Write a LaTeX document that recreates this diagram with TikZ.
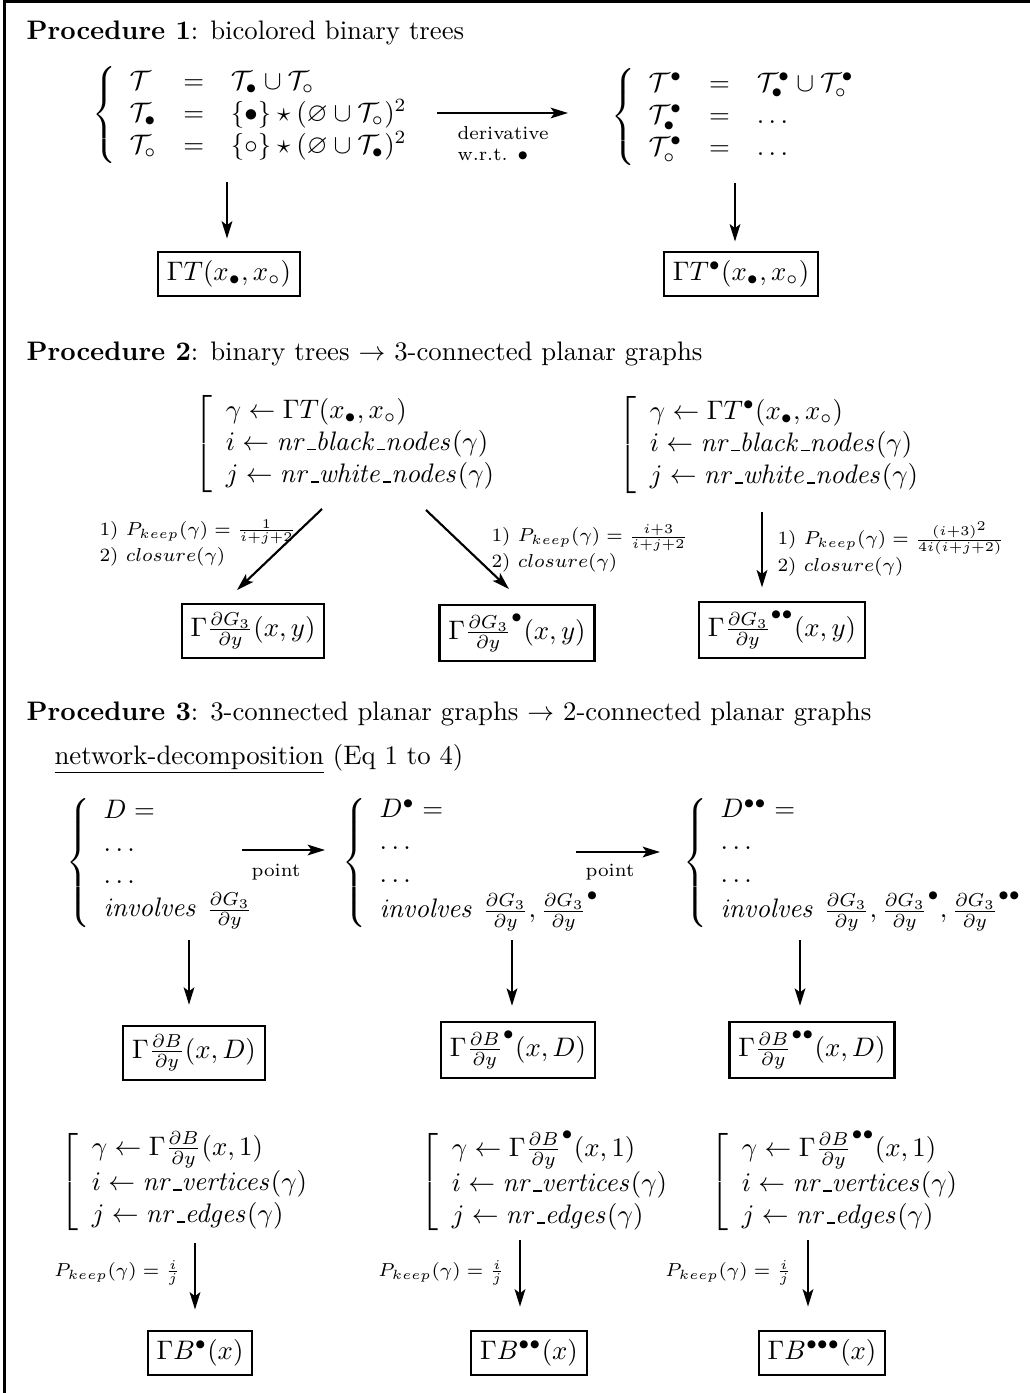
\documentclass[tikz,border=0pt]{standalone}
\usepackage{amsmath,amssymb}
\usetikzlibrary{arrows.meta}
\tikzset{
  box/.style={draw, line width=0.8pt, inner sep=3.33pt},
  arr/.style={-{Stealth[length=6.5pt,width=4pt,inset=1.5pt]}, line width=0.8pt},
  lbl/.style={font=\scriptsize, align=left, inner sep=0pt},
  sys/.style={inner sep=0pt, anchor=west},
  ttl/.style={anchor=base west, inner sep=0pt},
}
\newcommand{\dGy}{\frac{\partial G_3}{\partial y}}
\newcommand{\dBy}{\frac{\partial B}{\partial y}}
\newcommand{\us}{\kern.06em\vbox{\hrule height0.5pt width.3em}}
\begin{document}
\begin{tikzpicture}[x=0.3735pt,y=-0.3735pt]
\useasboundingbox (0,0) rectangle (1030,1393);
\draw[line width=1pt] (4.5,1393) -- (4.5,1.3) -- (1030,1.3);

% ---------------- Procedure 1
\node[ttl] (t1) at (26,39) {\textbf{Procedure 1}: bicolored binary trees};
\node[sys] (sA) at (92,115) {$\left\{\begin{array}{lcl}
 \mathcal{T} &=& \mathcal{T}_\bullet\cup\mathcal{T}_\circ\\
 \mathcal{T}_\bullet &=& \{\bullet\}\star(\varnothing\cup\mathcal{T}_\circ)^2\\
 \mathcal{T}_\circ &=& \{\circ\}\star(\varnothing\cup\mathcal{T}_\bullet)^2
 \end{array}\right.$};
\node[sys] (sB) at (611,117) {$\left\{\begin{array}{lcl}
 \mathcal{T}^\bullet &=& \mathcal{T}^\bullet_\bullet\cup\mathcal{T}^\bullet_\circ\\
 \mathcal{T}^\bullet_\bullet &=& \ldots\\
 \mathcal{T}^\bullet_\circ &=& \ldots
 \end{array}\right.$};
\node[box] (bA) at (229,274) {$\Gamma T(x_\bullet,x_\circ)$};
\node[box] (bB) at (741,274) {$\Gamma T^\bullet(x_\bullet,x_\circ)$};
\coordinate (h1s) at (437,113);
\coordinate (h1e) at (568,113);
\draw[arr] (h1s) -- (h1e);
\node[lbl, anchor=north west] (l1) at (457,126) {derivative\\w.r.t. $\bullet$};
\coordinate (vAs) at (227,182);
\coordinate (vBs) at (735,183);
\draw[arr, shorten >=4.5pt] (vAs) -- (vAs |- bA.north);
\draw[arr, shorten >=3.4pt] (vBs) -- (vBs |- bB.north);

% ---------------- Procedure 2
\node[ttl] (t2) at (26,360) {\textbf{Procedure 2}: binary trees $\rightarrow$ 3-connected planar graphs};
\node[sys] (sC) at (194,444) {$\left[\begin{array}{l}
 \gamma\leftarrow\Gamma T(x_\bullet,x_\circ)\\
 i\leftarrow \mathit{nr\us black\us nodes}(\gamma)\\
 j\leftarrow \mathit{nr\us white\us nodes}(\gamma)
 \end{array}\right.$};
\node[sys] (sD) at (618,445) {$\left[\begin{array}{l}
 \gamma\leftarrow\Gamma T^\bullet(x_\bullet,x_\circ)\\
 i\leftarrow \mathit{nr\us black\us nodes}(\gamma)\\
 j\leftarrow \mathit{nr\us white\us nodes}(\gamma)
 \end{array}\right.$};
\node[box] (b1) at (253,631) {$\Gamma\dGy(x,y)$};
\node[box] (b2) at (517,633) {$\Gamma{\dGy}^{\bullet}(x,y)$};
\node[box] (b3) at (782,630) {$\Gamma{\dGy}^{\bullet\bullet}(x,y)$};
\coordinate (d1s) at (322,509);
\coordinate (d1e) at (237,590);
\coordinate (d2s) at (426,510);
\coordinate (d2e) at (509,589);
\coordinate (d3s) at (762,512);
\draw[arr] (d1s) -- (d1e);
\draw[arr] (d2s) -- (d2e);
\draw[arr, shorten >=4.9pt] (d3s) -- (d3s |- b3.north);
\node[lbl, anchor=north west] (q1) at (99,519) {1) $P_{keep}(\gamma)=\frac{1}{i+j+2}$\\2) $closure(\gamma)$};
\node[lbl, anchor=north west] (q2) at (491,524) {1) $P_{keep}(\gamma)=\frac{i+3}{i+j+2}$\\2) $closure(\gamma)$};
\node[lbl, anchor=north west] (q3) at (777,521) {1) $P_{keep}(\gamma)=\frac{(i+3)^2}{4i(i+j+2)}$\\2) $closure(\gamma)$};

% ---------------- Procedure 3
\node[ttl] (t3) at (26,720) {\textbf{Procedure 3}: 3-connected planar graphs $\rightarrow$ 2-connected planar graphs};
\node[ttl] (t3b) at (54,764) {\underline{network-decomposition} (Eq 1 to 4)};
\node[sys] (sE) at (66,863) {$\left\{\begin{array}{l}
 D=\\ \ldots\\ \ldots\\ \mathit{involves}\ \dGy
 \end{array}\right.$};
\node[sys] (sF) at (342,863) {$\left\{\begin{array}{l}
 D^\bullet=\\ \ldots\\ \ldots\\ \mathit{involves}\ \dGy,{\dGy}^{\bullet}
 \end{array}\right.$};
\node[sys] (sG) at (683,863) {$\left\{\begin{array}{l}
 D^{\bullet\bullet}=\\ \ldots\\ \ldots\\ \mathit{involves}\ \dGy,{\dGy}^{\bullet},{\dGy}^{\bullet\bullet}
 \end{array}\right.$};
\coordinate (p1s) at (242,850);
\coordinate (p1e) at (325,850);
\coordinate (p2s) at (576,852);
\coordinate (p2e) at (660,852);
\draw[arr] (p1s) -- (p1e);
\draw[arr] (p2s) -- (p2e);
\node[font=\scriptsize, inner sep=0pt] (pl1) at (276,872) {point};
\node[font=\scriptsize, inner sep=0pt] (pl2) at (610,872) {point};
\node[box] (bE) at (194,1053) {$\Gamma\dBy(x,D)$};
\node[box] (bF) at (518,1050) {$\Gamma{\dBy}^{\bullet}(x,D)$};
\node[box] (bG) at (812,1050) {$\Gamma{\dBy}^{\bullet\bullet}(x,D)$};
\coordinate (vEs) at (189,940);
\coordinate (vFs) at (512,940);
\coordinate (vGs) at (800,940);
\draw[arr, shorten >=7.5pt] (vEs) -- (vEs |- bE.north);
\draw[arr, shorten >=5.6pt] (vFs) -- (vFs |- bF.north);
\draw[arr, shorten >=5.6pt] (vGs) -- (vGs |- bG.north);

% ---------------- last row
\node[sys] (sH) at (60,1182) {$\left[\begin{array}{l}
 \gamma\leftarrow\Gamma\dBy(x,1)\\
 i\leftarrow \mathit{nr\us vertices}(\gamma)\\
 j\leftarrow \mathit{nr\us edges}(\gamma)
 \end{array}\right.$};
\node[sys] (sI) at (420,1182) {$\left[\begin{array}{l}
 \gamma\leftarrow\Gamma{\dBy}^{\bullet}(x,1)\\
 i\leftarrow \mathit{nr\us vertices}(\gamma)\\
 j\leftarrow \mathit{nr\us edges}(\gamma)
 \end{array}\right.$};
\node[sys] (sJ) at (710,1182) {$\left[\begin{array}{l}
 \gamma\leftarrow\Gamma{\dBy}^{\bullet\bullet}(x,1)\\
 i\leftarrow \mathit{nr\us vertices}(\gamma)\\
 j\leftarrow \mathit{nr\us edges}(\gamma)
 \end{array}\right.$};
\node[box] (bK) at (200,1353) {$\Gamma B^{\bullet}(x)$};
\node[box] (bL) at (529,1353) {$\Gamma B^{\bullet\bullet}(x)$};
\node[box] (bM) at (822,1353) {$\Gamma B^{\bullet\bullet\bullet}(x)$};
\coordinate (vHs) at (195,1243);
\coordinate (vIs) at (520,1240);
\coordinate (vJs) at (808,1240);
\draw[arr, shorten >=7.5pt] (vHs) -- (vHs |- bK.north);
\draw[arr, shorten >=8.6pt] (vIs) -- (vIs |- bL.north);
\draw[arr, shorten >=8.6pt] (vJs) -- (vJs |- bM.north);
\node[lbl, anchor=east] (r1) at (181,1273) {$P_{keep}(\gamma)=\frac{i}{j}$};
\node[lbl, anchor=east] (r2) at (505,1273) {$P_{keep}(\gamma)=\frac{i}{j}$};
\node[lbl, anchor=east] (r3) at (792,1273) {$P_{keep}(\gamma)=\frac{i}{j}$};
\end{tikzpicture}
\end{document}
